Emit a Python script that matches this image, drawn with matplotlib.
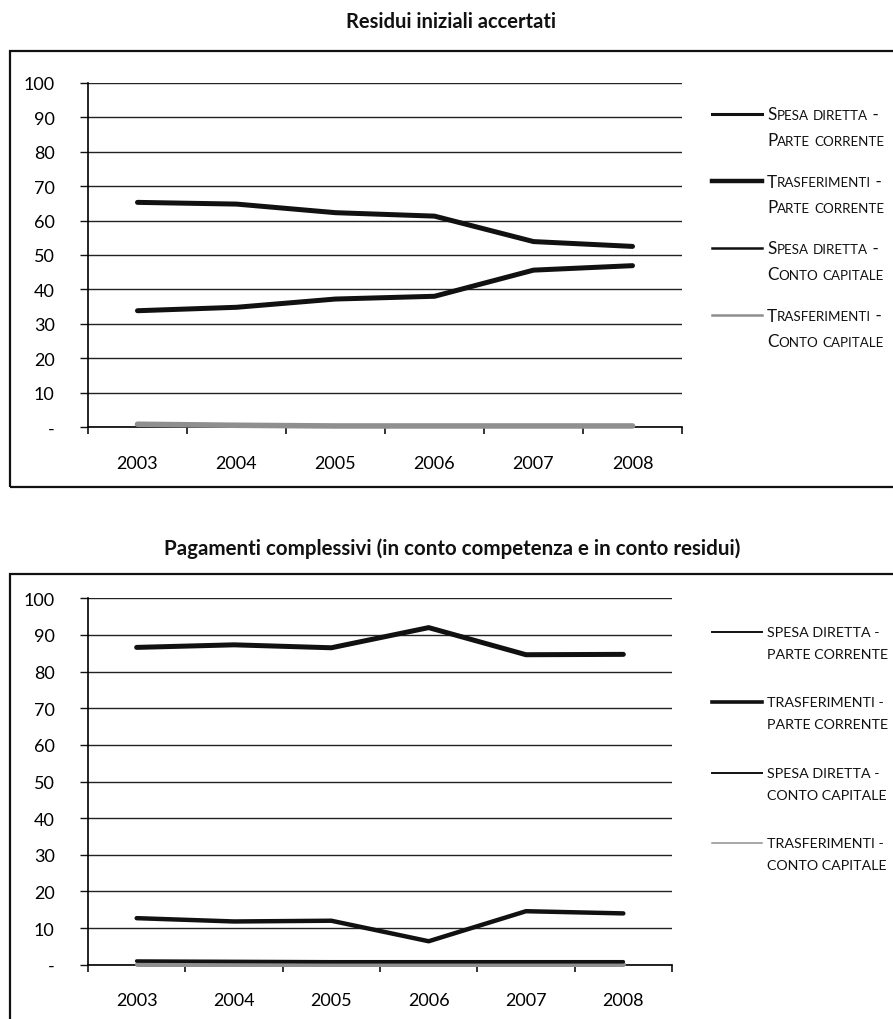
import matplotlib
matplotlib.use("Agg")
import matplotlib.pyplot as plt
from matplotlib.patches import Rectangle
import numpy as np

plt.rcParams['font.family'] = ['Lato', 'DejaVu Sans']

W, H = 893, 1020

years = ['2003', '2004', '2005', '2006', '2007', '2008']
y_values = [0, 10, 20, 30, 40, 50, 60, 70, 80, 90, 100]
y_labels = ['-', '10', '20', '30', '40', '50', '60', '70', '80', '90', '100']

series_names = [
    ('Spesa diretta -', 'Parte corrente'),
    ('Trasferimenti -', 'Parte corrente'),
    ('Spesa diretta -', 'Conto capitale'),
    ('Trasferimenti -', 'Conto capitale'),
]

# Residui iniziali accertati (quote %)
res_spesa_corr = [33.8, 34.8, 37.2, 38.0, 45.6, 46.9]
res_trasf_corr = [65.3, 64.8, 62.3, 61.3, 53.9, 52.5]
res_spesa_cap = [0.9, 0.6, 0.5, 0.5, 0.5, 0.5]
res_trasf_cap = [0.8, 0.5, 0.3, 0.3, 0.3, 0.3]

# Pagamenti complessivi (quote %)
pag_spesa_corr = [12.7, 11.8, 12.0, 6.4, 14.6, 14.0]
pag_trasf_corr = [86.6, 87.3, 86.5, 92.0, 84.6, 84.7]
pag_spesa_cap = [1.0, 0.9, 0.8, 0.8, 0.8, 0.8]
pag_trasf_cap = [0.3, 0.3, 0.3, 0.3, 0.3, 0.3]

BLACK = '#111111'
GREY = '#8f8f8f'


def px(x, y):
    """pixel position from top-left -> figure fraction"""
    return x / W, 1 - y / H


def setup_axes(ax):
    ax.set_xlim(0, 6)
    ax.set_ylim(0, 100)
    ax.set_xticks(np.arange(0, 7))
    ax.set_xticklabels([])
    ax.set_xticks(np.arange(6) + 0.5, minor=True)
    ax.set_xticklabels(years, minor=True, fontsize=13)
    ax.tick_params(axis='x', which='major', direction='out', length=5, width=1.2, color=BLACK)
    ax.tick_params(axis='x', which='minor', length=0, pad=20)
    ax.set_yticks(y_values)
    ax.set_yticklabels(y_labels, fontsize=13)
    ax.tick_params(axis='y', direction='out', length=6, width=1.0, pad=18, color=BLACK)
    ax.grid(axis='y', color='#222222', linewidth=1.0)
    ax.set_axisbelow(True)
    for s in ['top', 'right']:
        ax.spines[s].set_visible(False)
    ax.spines['left'].set_linewidth(1.2)
    ax.spines['bottom'].set_linewidth(1.2)


def small_caps(fig, x, y, text, big=12.3, small=9.6):
    """draw text in small caps starting at pixel (x, y baseline)"""
    runs = []
    for ch in text:
        size = small if ch.islower() else big
        if runs and runs[-1][1] == size:
            runs[-1][0] += ch.upper()
        else:
            runs.append([ch.upper(), size])
    prev = None
    for chunk, size in runs:
        if prev is None:
            t = fig.text(*px(x, y), chunk, fontsize=size, va='baseline', ha='left', color=BLACK)
        else:
            t = plt.gca().annotate(chunk, xy=(1, H - y), xycoords=(prev, 'figure pixels'),
                                   fontsize=size, va='baseline', ha='left', color=BLACK,
                                   annotation_clip=False)
        prev = t


fig = plt.figure(figsize=(W / 100, H / 100), dpi=100)

# frames around the two charts
for (x0, y0, x1, y1) in [(10, 52, 905, 488), (10, 575, 905, 1035)]:
    fig.add_artist(Rectangle(px(x0, y1), (x1 - x0) / W, (y1 - y0) / H,
                             transform=fig.transFigure, fill=False,
                             edgecolor=BLACK, linewidth=1.6))

fig.text(*px(451, 22), 'Residui iniziali accertati', ha='center', va='center',
         fontsize=14.5, fontweight='bold', color=BLACK)
fig.text(*px(452, 549), 'Pagamenti complessivi (in conto competenza e in conto residui)',
         ha='center', va='center', fontsize=14.8, fontweight='bold', color=BLACK)

x = np.arange(6) + 0.5

# top chart
ax1 = fig.add_axes([88 / W, 1 - 428 / H, 594 / W, 344 / H])
setup_axes(ax1)
top_series = [res_spesa_corr, res_trasf_corr, res_spesa_cap, res_trasf_cap]
top_colors = [BLACK, BLACK, BLACK, GREY]
top_widths = [3.6, 3.6, 1.6, 4.0]
for vals, c, lw in zip(top_series, top_colors, top_widths):
    ax1.plot(x, vals, color=c, linewidth=lw, solid_capstyle='round', solid_joinstyle='round',
             clip_on=False, zorder=3)

# bottom chart
ax2 = fig.add_axes([88 / W, 1 - 965.7 / H, 584 / W, 366.4 / H])
setup_axes(ax2)
bot_series = [pag_spesa_corr, pag_trasf_corr, pag_trasf_cap, pag_spesa_cap]
bot_colors = [BLACK, BLACK, GREY, BLACK]
bot_widths = [3.2, 3.6, 3.6, 2.6]
for vals, c, lw in zip(bot_series, bot_colors, bot_widths):
    ax2.plot(x, vals, color=c, linewidth=lw, solid_capstyle='round', solid_joinstyle='round',
             clip_on=False, zorder=3)

# legends, drawn by hand
legend_colors = [BLACK, BLACK, BLACK, GREY]

top_leg_y = [115, 182, 249, 316]
top_leg_lw = [2.2, 3.2, 1.8, 1.8]
for (l1, l2), c, lw, ly in zip(series_names, legend_colors, top_leg_lw, top_leg_y):
    fig.add_artist(plt.Line2D([712 / W, 762 / W], [1 - ly / H, 1 - ly / H],
                              transform=fig.transFigure, color=c, linewidth=lw))
    small_caps(fig, 767, ly + 5.5, l1)
    small_caps(fig, 767, ly + 31, l2)

bot_leg_y = [633, 703, 774, 844]
bot_leg_lw = [1.4, 2.6, 1.4, 1.1]
for (l1, l2), c, lw, ly in zip(series_names, legend_colors, bot_leg_lw, bot_leg_y):
    fig.add_artist(plt.Line2D([712 / W, 762 / W], [1 - ly / H, 1 - ly / H],
                              transform=fig.transFigure, color=c, linewidth=lw))
    fig.text(*px(767, ly), l1.upper(), fontsize=10.3, va='center', ha='left', color=BLACK)
    fig.text(*px(767, ly + 22), l2.upper(), fontsize=10.3, va='center', ha='left', color=BLACK)

fig.savefig('out.png', dpi=100)
